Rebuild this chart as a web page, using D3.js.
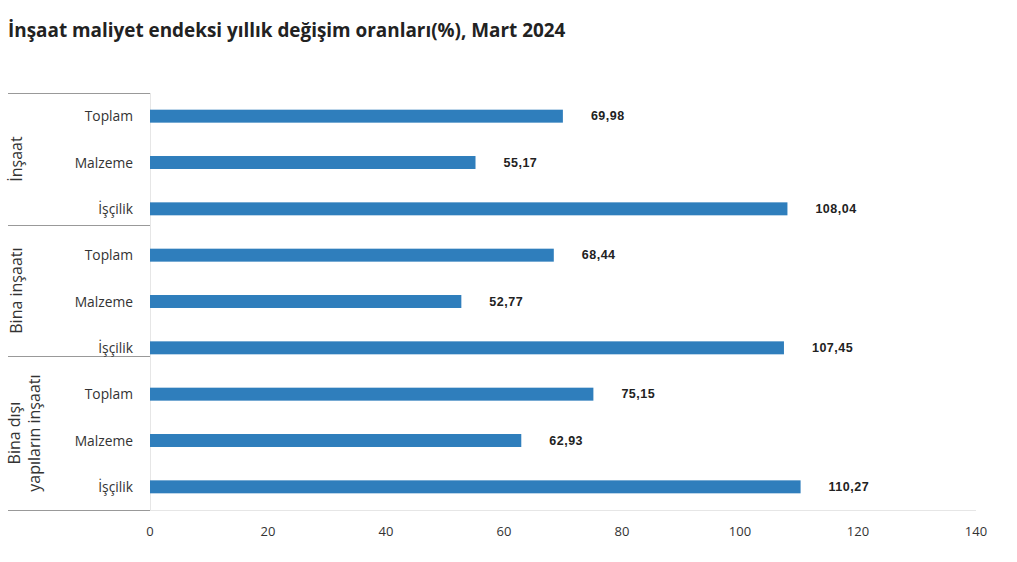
<!DOCTYPE html>
<html><head><meta charset="utf-8">
<script src="https://cdn.jsdelivr.net/npm/d3@7"></script>
<style>body{margin:0;background:#fff}svg{display:block}</style>
</head><body><svg id="c" width="1017" height="562"></svg>
<script>
const title = "İnşaat maliyet endeksi yıllık değişim oranları(%), Mart 2024";
const groups = [["İnşaat"], ["Bina inşaatı"], ["Bina dışı", "yapıların inşaatı"]];
const subCategories = ["Toplam", "Malzeme", "İşçilik"];
const values = [69.98, 55.17, 108.04, 68.44, 52.77, 107.45, 75.15, 62.93, 110.27];
const xTicks = [0, 20, 40, 60, 80, 100, 120, 140];
const groupBreaks = [0, 2.85, 5.68, 9];

(function () {
const svg = d3.select("#c");
const pLeft = 150, pRight = 976, pTop = 93, pBottom = 510;
const rows = values.map((v, i) => ({key: i, group: Math.floor(i / 3), cat: subCategories[i % 3], v}));

const x = d3.scaleLinear().domain([0, 140]).range([pLeft, pRight]);
const y = d3.scaleBand().domain(rows.map(r => r.key)).range([pTop, pBottom]).paddingInner(0.72).paddingOuter(0.36);
const unit = d3.scaleLinear().domain([0, 9]).range([pTop, pBottom]);

svg.append("text").attr("x", 8).attr("y", 37).text(title)
  .attr("font-family", "Open Sans, sans-serif").attr("font-weight", 700).attr("font-size", 18.9).attr("fill", "#222");

svg.append("line").attr("x1", pLeft + 0.5).attr("x2", pLeft + 0.5).attr("y1", pTop).attr("y2", pBottom).attr("stroke", "#e6e6e6");
svg.append("line").attr("x1", pLeft).attr("x2", pRight).attr("y1", pBottom + 0.5).attr("y2", pBottom + 0.5).attr("stroke", "#e6e6e6");

groupBreaks.forEach(b => {
  const yy = Math.round(unit(b)) + 0.5;
  svg.append("line").attr("x1", 8).attr("x2", pLeft).attr("y1", yy).attr("y2", yy).attr("stroke", "#999").attr("stroke-width", 1.2);
});

svg.selectAll("rect.bar").data(rows).join("rect").attr("class", "bar")
  .attr("x", x(0)).attr("y", d => y(d.key)).attr("width", d => x(d.v) - x(0)).attr("height", y.bandwidth())
  .attr("fill", "#2f7ebc");

svg.selectAll("text.val").data(rows).join("text").attr("class", "val")
  .attr("x", d => x(d.v) + 28).attr("y", d => y(d.key) + y.bandwidth() / 2 + 4)
  .text(d => d3.format(".2f")(d.v).replace(".", ","))
  .attr("font-family", "Liberation Sans, Arial, sans-serif").attr("font-weight", 700).attr("font-size", 12.5)
  .attr("letter-spacing", 0.5).attr("fill", "#222");

svg.selectAll("text.cat").data(rows).join("text").attr("class", "cat")
  .attr("x", 133).attr("y", d => y(d.key) + y.bandwidth() / 2 + 5).attr("text-anchor", "end")
  .text(d => d.cat)
  .attr("font-family", "Open Sans, sans-serif").attr("font-size", 13.8).attr("fill", "#333");

groups.forEach((g, i) => {
  const cy = (unit(groupBreaks[i]) + unit(groupBreaks[i + 1])) / 2;
  const t = svg.append("text").attr("transform", `translate(22,${cy}) rotate(-90)`).attr("text-anchor", "middle")
    .attr("font-family", "Open Sans, sans-serif").attr("font-size", 16).attr("fill", "#333");
  g.forEach((line, j) => {
    t.append("tspan").attr("x", 0).attr("dy", j === 0 ? (g.length > 1 ? -2 : 0) : 20).text(line);
  });
});

svg.selectAll("text.tick").data(xTicks).join("text").attr("class", "tick")
  .attr("x", d => x(d)).attr("y", 536).attr("text-anchor", "middle").text(d => d)
  .attr("font-family", "Open Sans, sans-serif").attr("font-size", 13).attr("fill", "#333");
})();
</script></body></html>
